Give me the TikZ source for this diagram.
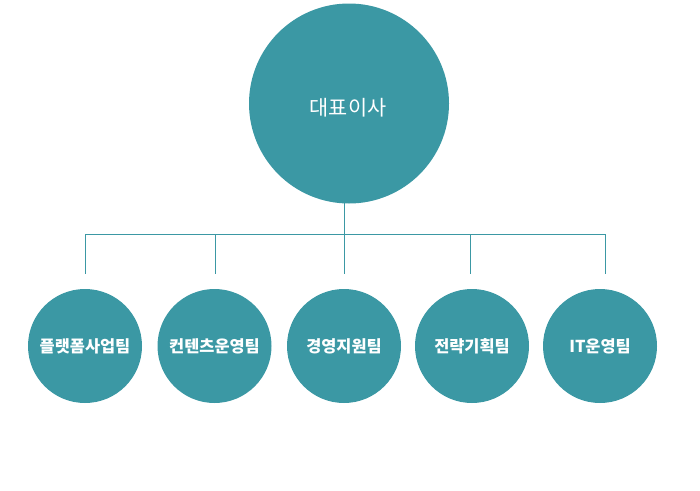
\documentclass[tikz,border=0pt]{standalone}
\usepackage{fontspec}
\newfontfamily\kr{Noto Sans CJK KR}
\definecolor{teal1}{HTML}{3B98A4}
\begin{document}
\begin{tikzpicture}[x=1pt,y=-1pt,
  topc/.style={circle,fill=teal1,minimum size=200pt,inner sep=0pt,text=white,font=\kr\fontsize{19pt}{22pt}\selectfont},
  team/.style={circle,fill=teal1,minimum size=114pt,inner sep=0pt,text=white,font=\kr\bfseries\fontsize{16.4pt}{19pt}\selectfont},
  link/.style={draw=teal1,line width=1pt}]
\useasboundingbox (0,0) rectangle (700,490);
\node[topc] (ceo) at (349,103.5) {};
\node[text=white,font=\kr\fontsize{20.8pt}{24pt}\selectfont] (ceot) at (348,108) {대표이사};
\node[team] (t1) at (85,346) {플랫폼사업팀};
\node[team] (t2) at (214.5,346) {컨텐츠운영팀};
\node[team] (t3) at (344,346) {경영지원팀};
\node[team] (t4) at (472,346) {전략기획팀};
\node[team] (t5) at (600,346) {IT운영팀};
\coordinate (j) at (344.5,234);
\coordinate (top) at (344.5,203);
\coordinate (h1) at (85,234);
\coordinate (h2) at (215,234);
\coordinate (h4) at (470.5,234);
\coordinate (h5) at (605,234);
\coordinate (d1) at (85,274);
\coordinate (d2) at (215,274);
\coordinate (d3) at (344.5,274);
\coordinate (d4) at (470.5,274);
\coordinate (d5) at (605,274);
\draw[link] (top) -- (j);
\draw[link] (h1) -- (h5);
\draw[link] (h1) -- (d1);
\draw[link] (h2) -- (d2);
\draw[link] (j) -- (d3);
\draw[link] (h4) -- (d4);
\draw[link] (h5) -- (d5);
\end{tikzpicture}
\end{document}
